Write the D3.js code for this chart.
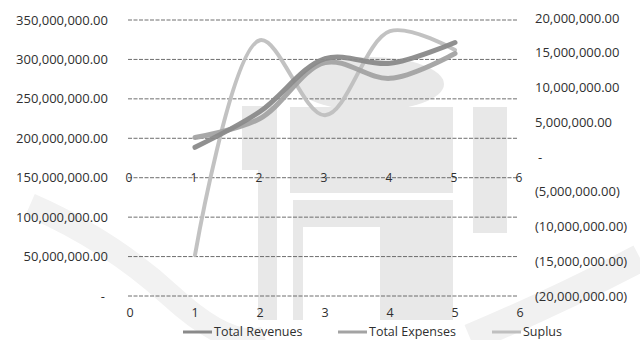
<!DOCTYPE html>
<html>
<head>
<meta charset="utf-8">
<script src="https://cdn.jsdelivr.net/npm/d3@7"></script>
<style>
  body { margin: 0; background: #fff; }
  svg { display: block; }
  text { font-family: "Open Sans", sans-serif; fill: #2f2f2f; }
</style>
</head>
<body>
<svg id="chart" width="640" height="340"></svg>
<script>
// values
let categories = [1, 2, 3, 4, 5];
let revenues = [188.6e6, 234e6, 301e6, 295e6, 321.5e6];
let expenses = [201e6, 225e6, 296e6, 276e6, 307.5e6];
let surplus = [-14.1e6, 16.8e6, 6.0e6, 18.1e6, 15.4e6];

let leftTicks = [0, 50e6, 100e6, 150e6, 200e6, 250e6, 300e6, 350e6];
let rightTicks = [-20e6, -15e6, -10e6, -5e6, 0, 5e6, 10e6, 15e6, 20e6];
let xTicks = [0, 1, 2, 3, 4, 5, 6];
let seriesNames = ["Total Revenues", "Total Expenses", "Suplus"];
let seriesColors = ["#8a8a8a", "#a3a3a3", "#bfbfbf"];

let svg = d3.select("#chart");

let x = d3.scaleLinear().domain([0, 6]).range([130, 520]);
let yLeft = d3.scaleLinear().domain([0, 350e6]).range([296, 20]);
let yRight = d3.scaleLinear().domain([-20e6, 20e6]).range([296, 18]);

let fmt = d3.format(",.2f");
let leftFmt = (v) => v === 0 ? "-" : fmt(v);
let rightFmt = (v) => v === 0 ? "-" : (v < 0 ? "(" + fmt(-v) + ")" : fmt(v));

// faint watermark behind the chart
let wm = svg.append("g").attr("fill", "#e8e8e8");
wm.append("ellipse").attr("cx", 370).attr("cy", 84).attr("rx", 74).attr("ry", 27);
[[242, 106, 35, 64], [258, 170, 19, 150], [290, 107, 163, 86], [293, 200, 87, 27],
 [293, 227, 10, 93], [380, 200, 73, 120], [473, 107, 34, 126]].forEach((r) => {
    wm.append("rect").attr("x", r[0]).attr("y", r[1]).attr("width", r[2]).attr("height", r[3]);
});
svg.append("path")
    .attr("d", "M30,205 Q110,240 170,295 T265,338")
    .attr("fill", "none").attr("stroke", "#f2f2f2").attr("stroke-width", 24);
svg.append("path")
    .attr("d", "M470,338 Q560,300 640,258")
    .attr("fill", "none").attr("stroke", "#f1f1f1").attr("stroke-width", 28);

// gridlines
svg.append("g").selectAll("line")
    .data(leftTicks)
    .enter()
    .append("line")
    .attr("x1", x(0) - 2)
    .attr("x2", x(6) - 2)
    .attr("y1", (d) => yLeft(d))
    .attr("y2", (d) => yLeft(d))
    .attr("stroke", "#5e5e5e")
    .attr("stroke-width", 0.9)
    .attr("stroke-dasharray", "4 1.5");

// left axis labels
svg.append("g").selectAll("text")
    .data(leftTicks)
    .enter()
    .append("text")
    .attr("x", (d) => d === 0 ? 105 : 108)
    .attr("y", (d) => yLeft(d))
    .attr("dy", "0.35em")
    .attr("text-anchor", "end")
    .style("font-size", "13px")
    .text(leftFmt);

// right axis labels
svg.append("g").selectAll("text")
    .data(rightTicks)
    .enter()
    .append("text")
    .attr("x", (d) => d === 0 ? 538 : 535)
    .attr("y", (d) => yRight(d))
    .attr("dy", "0.35em")
    .style("font-size", "13px")
    .text(rightFmt);

// primary x labels
svg.append("g").selectAll("text")
    .data(xTicks)
    .enter()
    .append("text")
    .attr("x", (d) => x(d))
    .attr("y", 313)
    .attr("dy", "0.35em")
    .attr("text-anchor", "middle")
    .style("font-size", "12.5px")
    .text((d) => d);

// secondary x labels sitting on the 150M gridline
svg.append("g").selectAll("text")
    .data(xTicks)
    .enter()
    .append("text")
    .attr("x", (d) => x(d) - 1)
    .attr("y", yLeft(150e6))
    .attr("dy", "0.35em")
    .attr("text-anchor", "middle")
    .style("font-size", "12px")
    .text((d) => d);

// series lines
let series = [
    {name: seriesNames[0], values: revenues, y: yLeft, width: 5},
    {name: seriesNames[1], values: expenses, y: yLeft, width: 5},
    {name: seriesNames[2], values: surplus, y: yRight, width: 4}
];

series.slice().reverse().forEach((s) => {
    let i = seriesNames.indexOf(s.name);
    let line = d3.line()
        .curve(d3.curveCatmullRom.alpha(0.5))
        .x((d, j) => x(categories[j]))
        .y((d) => s.y(d));
    svg.append("path")
        .datum(s.values)
        .attr("d", line)
        .attr("fill", "none")
        .attr("stroke", seriesColors[i])
        .attr("stroke-width", s.width)
        .attr("stroke-linecap", "round")
        .attr("opacity", 0.95);
});

// legend
let legendX = [183, 338, 492];
let legend = svg.append("g").selectAll("g")
    .data(seriesNames)
    .enter()
    .append("g")
    .attr("transform", (d, i) => "translate(" + legendX[i] + ", 332)");
legend.append("line")
    .attr("x1", 0).attr("x2", 29)
    .attr("stroke", (d, i) => seriesColors[i])
    .attr("stroke-width", 3);
legend.append("text")
    .attr("x", 31)
    .attr("dy", "0.35em")
    .style("font-size", "12.5px")
    .text((d) => d);
</script>
</body>
</html>
